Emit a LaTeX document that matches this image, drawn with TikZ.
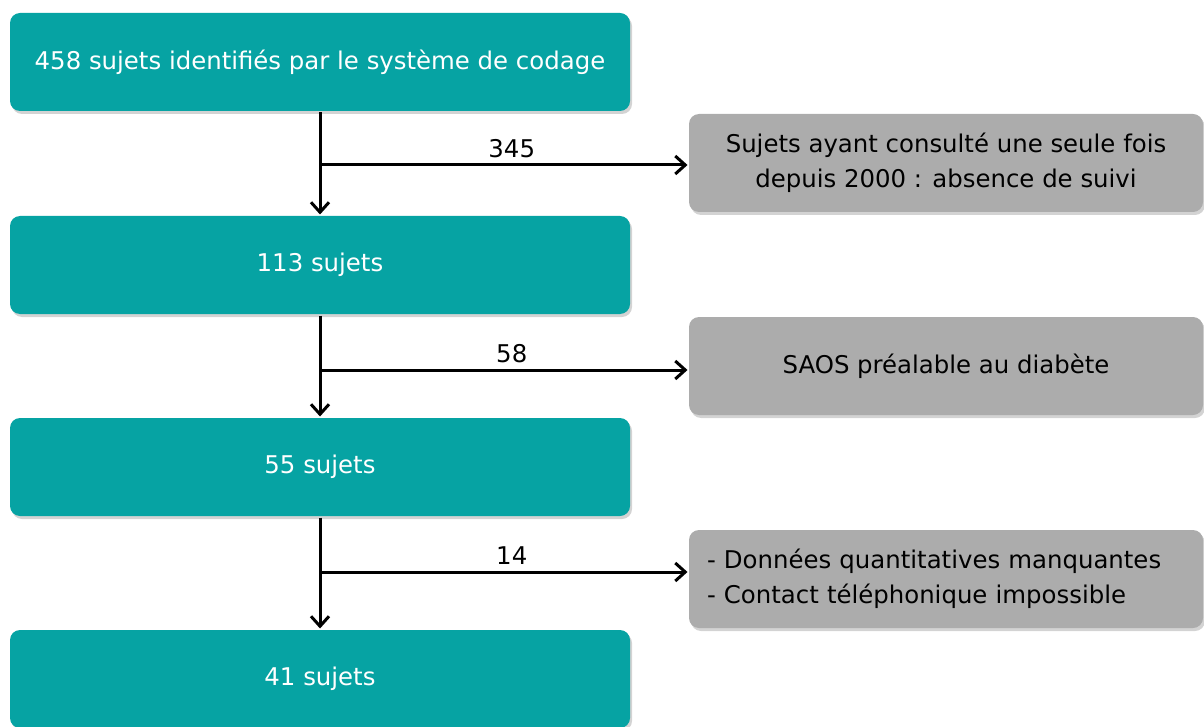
\documentclass[tikz,border=0pt]{standalone}
\usepackage{fontspec}
\setmainfont{DejaVu Sans}
\usetikzlibrary{arrows.meta,shadows}
\definecolor{tealbox}{RGB}{6,163,163}
\definecolor{greybox}{RGB}{172,172,172}
\begin{document}
\begin{tikzpicture}[x=0.5pt,y=-0.5pt,line width=1.5pt,>={Straight Barb[length=5pt,width=9pt]}]
	\def \colmain{320}
	\def \colside{946}
	\tikzstyle{t-node}=[fill=tealbox,text=white,rounded corners=5pt,minimum width=310pt,minimum height=49pt,inner sep=4pt,
		font=\fontsize{12.2}{17}\selectfont,drop shadow={shadow xshift=1pt,shadow yshift=-1.5pt,opacity=0.35}]
	\tikzstyle{g-node}=[fill=greybox,text=black,rounded corners=5pt,minimum width=257pt,minimum height=49pt,inner xsep=9pt,
		font=\fontsize{12.2}{17.5}\selectfont,drop shadow={shadow xshift=1pt,shadow yshift=-1.5pt,opacity=0.35}]
	\tikzstyle{n-label}=[above,xshift=4pt,font=\fontsize{12.2}{14}\selectfont,inner sep=3pt]
	\useasboundingbox (0,0) rectangle (1204,727);
	% main column
	\node[t-node] 	(t0)	at (\colmain,62)	{458 sujets identifiés par le système de codage};
	\node[t-node] 	(t1)	at (\colmain,265)	{113 sujets};
	\node[t-node] 	(t2)	at (\colmain,467)	{55 sujets};
	\node[t-node] 	(t3)	at (\colmain,679)	{41 sujets};
	
	% excluded
	\node[g-node,align=center] 	(g0)	at (\colside,163)	{Sujets ayant consulté une seule fois\\depuis 2000 : absence de suivi};
	\node[g-node] 	(g1)	at (\colside,366)	{SAOS préalable au diabète};
	\node[g-node,text width=239pt,align=left] 	(g2)	at (\colside,579)	{- Données quantitatives manquantes\\- Contact téléphonique impossible};
	
	% branch points
	\coordinate (j0) at (\colmain,165);
	\coordinate (j1) at (\colmain,370);
	\coordinate (j2) at (\colmain,572);
	
	\path
		(t0)	edge[->]	(t1)
		(t1)	edge[->]	(t2)
		(t2)	edge[->]	(t3)
		%
		(j0)	edge[->]	node[n-label]	{345}	(j0 -| g0.west)
		(j1)	edge[->]	node[n-label]	{58}	(j1 -| g1.west)
		(j2)	edge[->]	node[n-label]	{14}	(j2 -| g2.west);
\end{tikzpicture}
\end{document}
